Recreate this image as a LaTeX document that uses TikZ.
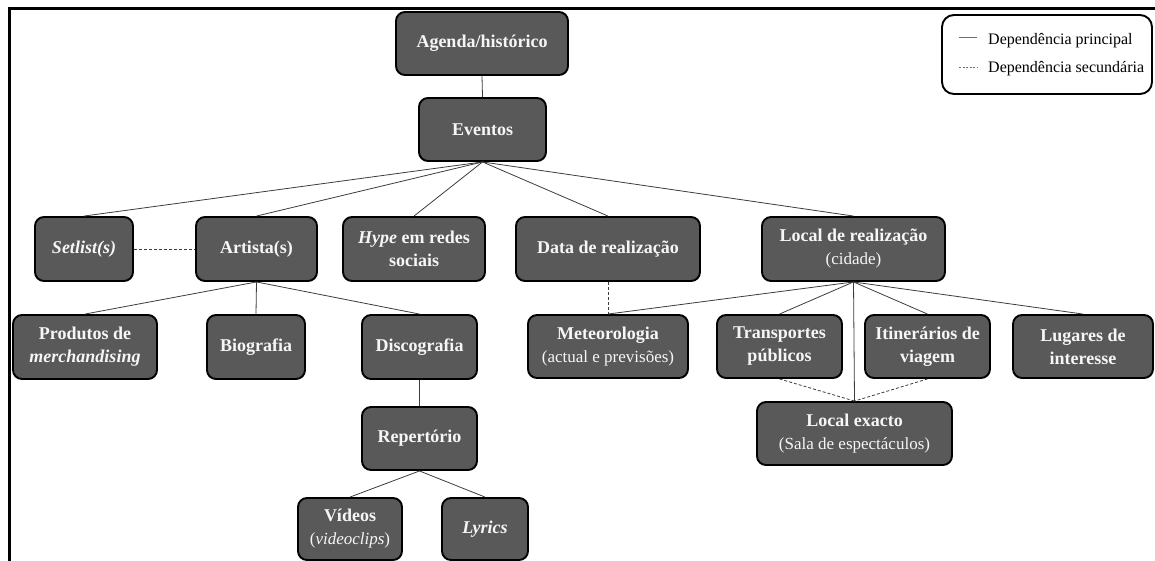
\documentclass[tikz,border=0pt]{standalone}
\usepackage{fontspec}
\setmainfont{Liberation Serif}
\definecolor{boxfill}{RGB}{89,89,89}
\definecolor{boxtext}{RGB}{246,246,246}
\definecolor{linkcol}{RGB}{60,60,60}
\definecolor{legline}{RGB}{110,110,110}
\newcommand{\boxsub}[1]{{\mdseries\fontsize{17}{23}\selectfont #1}}
\begin{document}
\begin{tikzpicture}[x=1pt,y=-1pt,
  box/.style={draw=black, line width=1.9pt, fill=boxfill, rounded corners=9pt,
    text=boxtext, align=center, inner sep=0pt,
    font=\bfseries\fontsize{18}{23}\selectfont},
  link/.style={draw=linkcol, line width=0.8pt},
  weak/.style={link, dash pattern=on 3pt off 2pt},
  legtext/.style={anchor=west, inner sep=0pt, font=\fontsize{16}{18}\selectfont}
]
\useasboundingbox (0,0) rectangle (1155,560);

% page frame (left and top edges)
\draw[line width=3pt] (9,562) -- (9,8) -- (1157,8);

% top levels
\node[box, minimum width=172pt, minimum height=63pt] (agenda) at (482,43.5) {Agenda/histórico};
\node[box, minimum width=127pt, minimum height=63pt] (eventos) at (482.5,129.5) {Eventos};

% second row
\node[box, minimum width=98pt,  minimum height=64pt] (setlist) at (84,249) {\itshape Setlist(s)};
\node[box, minimum width=121pt, minimum height=64pt] (artista) at (256.5,249) {Artista(s)};
\node[box, minimum width=142pt, minimum height=64pt] (hype) at (414,249) {\textit{Hype} em redes\\sociais};
\node[box, minimum width=184pt, minimum height=64pt] (data) at (608,249) {Data de realização};
\node[box, minimum width=183pt, minimum height=64pt] (local) at (853.5,249) {Local de realização\\\boxsub{(cidade)}};

% third row
\node[box, minimum width=144pt, minimum height=64pt] (produtos) at (85,347) {Produtos de\\\textit{merchandising}};
\node[box, minimum width=98pt,  minimum height=64pt] (biografia) at (256,347) {Biografia};
\node[box, minimum width=115pt, minimum height=64pt] (discografia) at (419.5,347) {Discografia};
\node[box, minimum width=160pt, minimum height=63pt] (meteo) at (608,346.5) {Meteorologia\\\boxsub{(actual e previsões)}};
\node[box, minimum width=125pt, minimum height=63pt] (transportes) at (779.5,346.5) {Transportes\\públicos};
\node[box, minimum width=125pt, minimum height=63pt] (itinerarios) at (927.5,346.5) {Itinerários de\\viagem};
\node[box, minimum width=140pt, minimum height=63pt] (lugares) at (1083,346.5) {Lugares de\\interesse};

% lower levels
\node[box, minimum width=195pt, minimum height=63pt] (localex) at (854.5,433.5) {Local exacto\\\boxsub{(Sala de espectáculos)}};
\node[box, minimum width=115pt, minimum height=63pt] (repertorio) at (419.5,438.5) {Repertório};
\node[box, minimum width=104pt, minimum height=62pt] (videos) at (350,529) {Vídeos\\\boxsub{(\textit{videoclips})}};
\node[box, minimum width=86pt,  minimum height=62pt] (lyrics) at (485,529) {\itshape Lyrics};

% main dependencies
\draw[link] (agenda.south) -- (eventos.north);
\foreach \t in {setlist,artista,hype,data,local}
  \draw[link] (eventos.south) -- (\t.north);
\foreach \t in {produtos,biografia,discografia}
  \draw[link] (artista.south) -- (\t.north);
\draw[link] (discografia.south) -- (repertorio.north);
\draw[link] (repertorio.south) -- (videos.north);
\draw[link] (repertorio.south) -- (lyrics.north);
\foreach \t in {meteo,transportes,itinerarios,lugares,localex}
  \draw[link] (local.south) -- (\t.north);

% secondary dependencies
\draw[weak] (setlist.east) -- (artista.west);
\draw[weak] (data.south) -- (meteo.north);
\draw[weak] (transportes.south) -- (localex.north);
\draw[weak] (itinerarios.south) -- (localex.north);

% legend
\node[draw=black, line width=1.9pt, rounded corners=12pt, minimum width=210pt,
  minimum height=79pt, inner sep=0pt] (legend) at (1047,54.5) {};
\coordinate (solidA) at (959,37);
\coordinate (solidB) at (977,37);
\coordinate (dashA) at (959,67);
\coordinate (dashB) at (977,67);
\draw[draw=legline, line width=0.9pt] (solidA) -- (solidB);
\draw[draw=legline, line width=0.9pt, dash pattern=on 2pt off 1.5pt] (dashA) -- (dashB);
\node[legtext] (legmain) at (988,41) {Dependência principal};
\node[legtext] (legsec) at (988,69) {Dependência secundária};
\end{tikzpicture}
\end{document}
